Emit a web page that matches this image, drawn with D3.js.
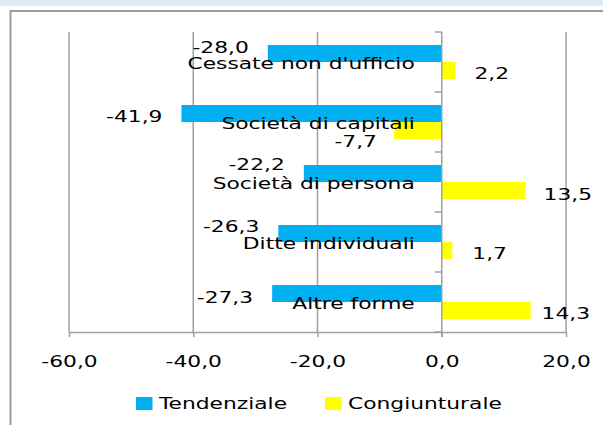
<!DOCTYPE html>
<html>
<head>
<meta charset="utf-8">
<script src="https://cdn.jsdelivr.net/npm/d3@7"></script>
<style>
  html, body { margin: 0; padding: 0; background: #ffffff; }
  svg { display: block; }
  text { font-family: "DejaVu Sans", sans-serif; font-size: 16.5px; fill: #000; }
</style>
</head>
<body>
<script>
// ---- data ----
const categories = ["Cessate non d'ufficio", "Società di capitali", "Società di persona", "Ditte individuali", "Altre forme"];
const seriesNames = ["Tendenziale", "Congiunturale"];
const tendenziale = [-28.0, -41.9, -22.2, -26.3, -27.3];
const congiunturale = [2.2, -7.7, 13.5, 1.7, 14.3];
const tickValues = [-60, -40, -20, 0, 20];
const tickLabels = ["-60,0", "-40,0", "-20,0", "0,0", "20,0"];

// ---- layout (label placement offsets, not data) ----
// [anchor, dx from bar end, baseline dy from band top]
const tendLabelLayout = [["end", -19, 21], ["end", -19, 30], ["end", -19, 18], ["end", -19, 20], ["end", -19, 31]];
const congLabelLayout = [["start", 19, 47], ["end", -17, 55], ["start", 18, 48], ["start", 20, 47], ["start", 11, 47]];

const W = 603, H = 425;
const colors = { Tendenziale: "#00b0f0", Congiunturale: "#ffff00" };
const SX = 1.32; // horizontal text stretch
const fmt = v => v.toFixed(1).replace(".", ",");

const svg = d3.select("body").append("svg").attr("width", W).attr("height", H);

// top band and frame
svg.append("rect").attr("x", 0).attr("y", 0).attr("width", W).attr("height", 6).attr("fill", "#dbeef4");
svg.append("rect").attr("x", 10.5).attr("y", 11).attr("width", W + 20).attr("height", H + 20)
  .attr("fill", "#fff").attr("stroke", "#9a9a9a").attr("stroke-width", 2);

const x = d3.scaleLinear().domain([-60, 20]).range([69, 566]);
const y = d3.scaleBand().domain(categories).range([32, 332]);
const sub = d3.scaleBand().domain(seriesNames).range([13, 47]);
const plotTop = y.range()[0], plotBottom = y.range()[1];

function stext(g, px, py, str, anchor) {
  return g.append("text")
    .attr("transform", `translate(${px},${py}) scale(${SX},1)`)
    .attr("text-anchor", anchor)
    .text(str);
}

// gridlines
svg.append("g").selectAll("line").data(tickValues.filter(v => v !== 0)).join("line")
  .attr("x1", d => x(d)).attr("x2", d => x(d))
  .attr("y1", plotTop).attr("y2", plotBottom)
  .attr("stroke", "#a0a0a0").attr("stroke-width", 1.5);

// bars
const seriesData = [tendenziale, congiunturale];
seriesNames.forEach((s, si) => {
  svg.append("g").selectAll("rect").data(seriesData[si]).join("rect")
    .attr("x", d => x(Math.min(0, d)))
    .attr("width", d => Math.abs(x(d) - x(0)))
    .attr("y", (d, i) => y(categories[i]) + sub(s))
    .attr("height", sub.bandwidth())
    .attr("fill", colors[s]);
});

// x axis
const xAxis = d3.axisBottom(x).tickValues(tickValues)
  .tickFormat((d, i) => tickLabels[i]).tickSize(5).tickSizeOuter(0);
const gx = svg.append("g").attr("transform", `translate(0,${plotBottom})`).call(xAxis);
gx.select(".domain").attr("stroke", "#a0a0a0").attr("stroke-width", 1.5);
gx.selectAll(".tick line").attr("stroke", "#a0a0a0").attr("stroke-width", 1.5);
gx.selectAll(".tick text")
  .attr("y", 35).attr("dy", 0)
  .attr("transform", `scale(${SX},1)`)
  .attr("font-family", "DejaVu Sans").attr("font-size", 16.5).attr("fill", "#000");

// category axis at 0
const gy = svg.append("g");
gy.append("line").attr("x1", x(0)).attr("x2", x(0)).attr("y1", plotTop).attr("y2", plotBottom + 5)
  .attr("stroke", "#a0a0a0").attr("stroke-width", 1.5);
const boundaries = categories.map(c => y(c)).concat([plotBottom]);
gy.selectAll("line.t").data(boundaries).join("line").attr("class", "t")
  .attr("x1", x(0) - 7).attr("x2", x(0))
  .attr("y1", d => d).attr("y2", d => d)
  .attr("stroke", "#a0a0a0").attr("stroke-width", 1.5);

// category labels
const gl = svg.append("g");
categories.forEach(c => stext(gl, x(0) - 27, y(c) + 37, c, "end"));

// value labels
const gv = svg.append("g");
tendenziale.forEach((v, i) => {
  const [a, dx, dy] = tendLabelLayout[i];
  stext(gv, x(v) + dx, y(categories[i]) + dy, fmt(v), a);
});
congiunturale.forEach((v, i) => {
  const [a, dx, dy] = congLabelLayout[i];
  stext(gv, x(v) + dx, y(categories[i]) + dy, fmt(v), a);
});

// legend
const legendX = [136, 325];
const lg = svg.append("g");
seriesNames.forEach((s, i) => {
  lg.append("rect").attr("x", legendX[i]).attr("y", 397).attr("width", 16.5).attr("height", 13).attr("fill", colors[s]);
  stext(lg, legendX[i] + 23, 409, s, "start");
});
</script>
</body>
</html>
